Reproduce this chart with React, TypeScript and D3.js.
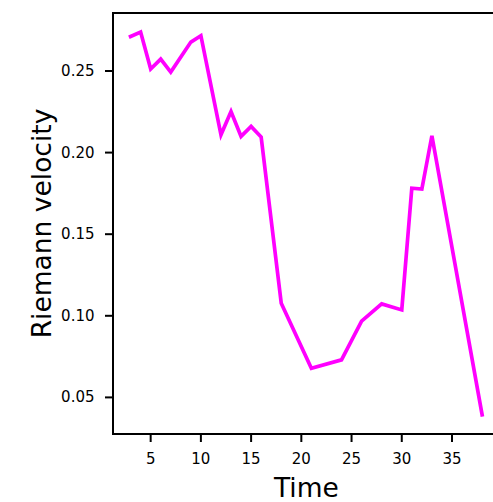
import React from "react";
import * as d3 from "d3";

const times = [3, 4, 5, 6, 7, 9, 10, 12, 13, 14, 15, 16, 18, 21, 24, 26, 28, 30, 31, 32, 33, 38];
const velocity = [
  0.2711, 0.2738, 0.2512, 0.2573, 0.2493, 0.2677, 0.2716, 0.2109, 0.2252, 0.2099,
  0.216, 0.2095, 0.1077, 0.0679, 0.073, 0.0967, 0.1073, 0.1036, 0.1782, 0.1777,
  0.2103, 0.0393,
];
const xTicks = [5, 10, 15, 20, 25, 30, 35];
const yTicks = [0.05, 0.1, 0.15, 0.2, 0.25];

const W = 493;
const H = 502;
const left = 113;
const right = 499.7;
const top = 13;
const bottom = 434;
const FONT = "DejaVu Sans, sans-serif";

export default function App() {
  const [x0, x1] = d3.extent(times) as [number, number];
  const [y0, y1] = d3.extent(velocity) as [number, number];
  const xp = (x1 - x0) * 0.05;
  const yp = (y1 - y0) * 0.05;
  const x = d3.scaleLinear().domain([x0 - xp, x1 + xp]).range([left, right]);
  const y = d3.scaleLinear().domain([y0 - yp, y1 + yp]).range([bottom, top]);
  const line = d3
    .line<number>()
    .x((_, i) => x(times[i]))
    .y((d) => y(d));

  return (
    <svg
      width={W}
      height={H}
      style={{ position: "absolute", left: 0, top: 0, background: "#fff" }}
      fontFamily={FONT}
    >
      <rect x={0} y={0} width={W} height={H} fill="#fff" />
      <path
        d={line(velocity) || ""}
        fill="none"
        stroke="#ff00ff"
        strokeWidth={3.7}
        strokeLinejoin="miter"
        strokeLinecap="square"
      />
      {/* spines */}
      <line x1={left} x2={left} y1={top} y2={bottom} stroke="#000" strokeWidth={2} strokeLinecap="square" />
      <line x1={left} x2={right} y1={bottom} y2={bottom} stroke="#000" strokeWidth={2} strokeLinecap="square" />
      <line x1={left} x2={right} y1={top} y2={top} stroke="#000" strokeWidth={2} strokeLinecap="square" />
      <line x1={right} x2={right} y1={top} y2={bottom} stroke="#000" strokeWidth={2} />
      {/* x ticks */}
      {xTicks.map((t) => (
        <g key={"x" + t}>
          <line x1={x(t)} x2={x(t)} y1={bottom} y2={bottom + 8} stroke="#000" strokeWidth={2} />
          <text x={x(t)} y={464} textAnchor="middle" fontSize={15} fill="#000">
            {t}
          </text>
        </g>
      ))}
      {/* y ticks */}
      {yTicks.map((t) => (
        <g key={"y" + t}>
          <line x1={left - 8} x2={left} y1={y(t)} y2={y(t)} stroke="#000" strokeWidth={2} />
          <text
            x={94.5}
            y={y(t)}
            textAnchor="end"
            dominantBaseline="central"
            fontSize={15}
            fill="#000"
          >
            {t.toFixed(2)}
          </text>
        </g>
      ))}
      <text x={(left + right) / 2} y={497} textAnchor="middle" fontSize={26.5} fill="#000">
        Time
      </text>
      <text
        transform={`translate(51, ${(top + bottom) / 2}) rotate(-90)`}
        textAnchor="middle"
        fontSize={26.5}
        fill="#000"
      >
        Riemann velocity
      </text>
    </svg>
  );
}
